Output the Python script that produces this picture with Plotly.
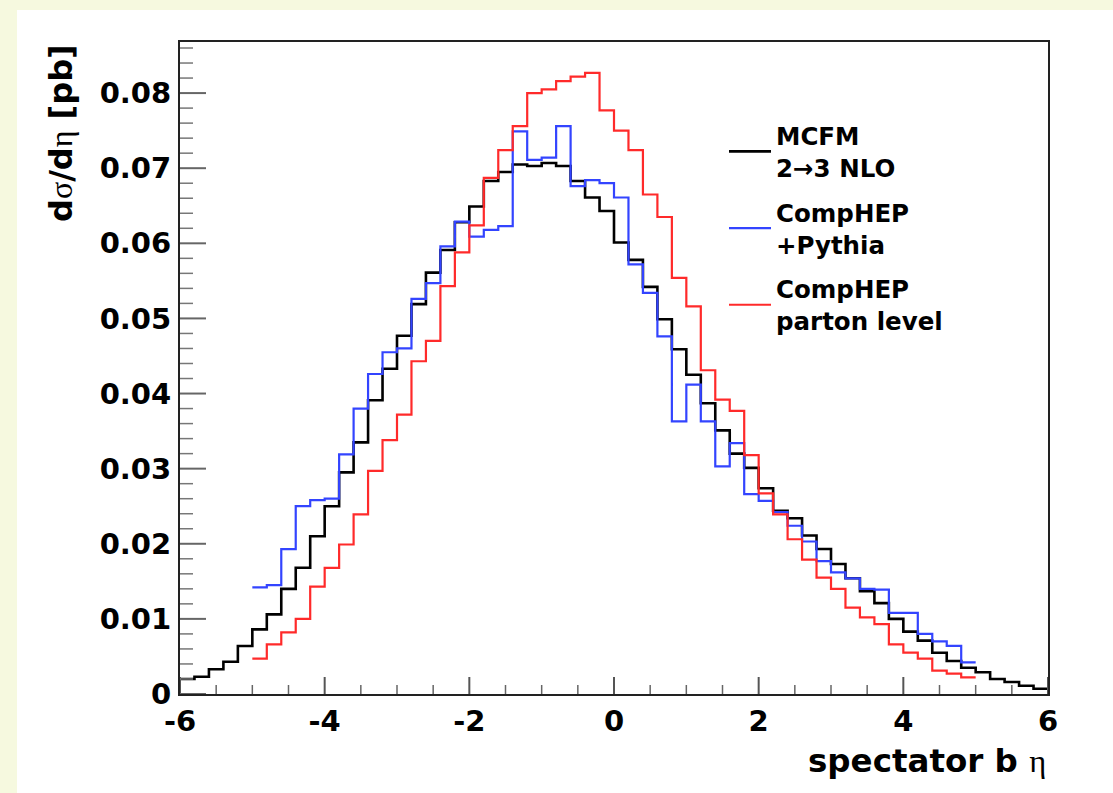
import numpy as np
import plotly.graph_objects as go

# ---------------- data ----------------
eta_min, eta_max, bin_width = -6.0, 6.0, 0.2

mcfm_nlo = [0.0020, 0.0023, 0.0033, 0.0043, 0.0064, 0.0086, 0.0106, 0.0140, 0.0168, 0.0210,
            0.0250, 0.0295, 0.0335, 0.0391, 0.0433, 0.0477, 0.0519, 0.0561, 0.0591, 0.0628,
            0.0649, 0.0683, 0.0695, 0.0705, 0.0703, 0.0707, 0.0703, 0.0683, 0.0661, 0.0643,
            0.0601, 0.0578, 0.0542, 0.0499, 0.0459, 0.0425, 0.0387, 0.0351, 0.0320, 0.0301,
            0.0274, 0.0244, 0.0234, 0.0211, 0.0193, 0.0173, 0.0154, 0.0137, 0.0121, 0.0100,
            0.0083, 0.0071, 0.0055, 0.0044, 0.0035, 0.0029, 0.0020, 0.0016, 0.0011, 0.0007]
mcfm_start = -6.0

comphep_pythia = [0.0142, 0.0145, 0.0193, 0.0250, 0.0258, 0.0260, 0.0319, 0.0380, 0.0426, 0.0455,
                  0.0460, 0.0526, 0.0547, 0.0596, 0.0629, 0.0609, 0.0618, 0.0623, 0.0749, 0.0711,
                  0.0714, 0.0756, 0.0676, 0.0684, 0.0680, 0.0661, 0.0572, 0.0534, 0.0476, 0.0363,
                  0.0412, 0.0363, 0.0303, 0.0334, 0.0266, 0.0257, 0.0242, 0.0224, 0.0203, 0.0177,
                  0.0162, 0.0154, 0.0140, 0.0139, 0.0108, 0.0108, 0.0080, 0.0070, 0.0064, 0.0042]
pythia_start = -5.0

comphep_parton = [0.0047, 0.0066, 0.0082, 0.0100, 0.0143, 0.0168, 0.0199, 0.0239, 0.0297, 0.0338,
                  0.0372, 0.0443, 0.0470, 0.0543, 0.0588, 0.0624, 0.0687, 0.0724, 0.0756, 0.0800,
                  0.0805, 0.0816, 0.0822, 0.0827, 0.0777, 0.0750, 0.0724, 0.0665, 0.0635, 0.0554,
                  0.0516, 0.0431, 0.0392, 0.0377, 0.0318, 0.0267, 0.0239, 0.0206, 0.0179, 0.0155,
                  0.0140, 0.0115, 0.0102, 0.0093, 0.0066, 0.0055, 0.0047, 0.0031, 0.0027, 0.0022]
parton_start = -5.0

series_names = ["MCFM<br>2→3 NLO", "CompHEP<br>+Pythia", "CompHEP<br>parton level"]
series_colors = ["#000000", "#3344ff", "#ff2a2a"]

x_tick_vals = [-6, -4, -2, 0, 2, 4, 6]
x_tick_text = ["-6", "-4", "-2", "0", "2", "4", "6"]
x_minor_step = 0.5
y_tick_vals = [0, 0.01, 0.02, 0.03, 0.04, 0.05, 0.06, 0.07, 0.08]
y_tick_text = ["0", "0.01", "0.02", "0.03", "0.04", "0.05", "0.06", "0.07", "0.08"]
y_minor_step = 0.002
y_max = 0.0868


def step_xy(values, start):
    n = len(values)
    edges = np.round(start + bin_width * np.arange(n + 1), 6)
    ys = list(values) + [values[-1]]
    return edges, ys


# ---------------- figure ----------------
W, H = 1113, 793
L, R, T, B = 180, 65, 42, 99
pw, ph = W - L - R, H - T - B
PAGE = "#f6f9df"


def px_x(p):
    return (p - L) / pw


def px_y(p):
    return (H - B - p) / ph


fig = go.Figure()
specs = [
    (mcfm_nlo, mcfm_start, series_names[0], series_colors[0], 2.6, "a"),
    (comphep_pythia, pythia_start, series_names[1], series_colors[1], 2.2, "b"),
    (comphep_parton, parton_start, series_names[2], series_colors[2], 2.2, "c"),
]
for vals, start, name, col, lw, grp in specs:
    xs, ys = step_xy(vals, start)
    fig.add_trace(go.Scatter(x=xs, y=ys, mode="lines", name=name, legendgroup=grp,
                             line=dict(color=col, width=lw, shape="hv"),
                             hoverinfo="skip"))

tick_font = dict(family="DejaVu Sans", size=29, color="black", weight="bold")

# ---- inside tick marks (ROOT style), drawn as axis-referenced line shapes ----
tick_shapes = []
x_minor = [v for v in np.arange(eta_min, eta_max + 1e-9, x_minor_step)
           if min(abs(v - t) for t in x_tick_vals) > 1e-6]
for v in x_tick_vals:
    tick_shapes.append(dict(type="line", xref="x", yref="paper", x0=v, x1=v, y0=0, y1=17 / ph,
                            line=dict(color="#555", width=2), layer="above"))
for v in x_minor:
    tick_shapes.append(dict(type="line", xref="x", yref="paper", x0=v, x1=v, y0=0, y1=9 / ph,
                            line=dict(color="#666", width=1.5), layer="above"))
y_minor = [v for v in np.arange(0, y_max, y_minor_step)
           if min(abs(v - t) for t in y_tick_vals) > 1e-7]
for v in y_tick_vals:
    tick_shapes.append(dict(type="line", xref="paper", yref="y", x0=0, x1=26 / pw, y0=v, y1=v,
                            line=dict(color="#666", width=2), layer="above"))
for v in y_minor:
    tick_shapes.append(dict(type="line", xref="paper", yref="y", x0=0, x1=13 / pw, y0=v, y1=v,
                            line=dict(color="#777", width=1.5), layer="above"))

page_shapes = [
    dict(type="rect", xref="paper", yref="paper", layer="above",
         x0=px_x(-5), x1=px_x(17), y0=px_y(H + 5), y1=px_y(-5),
         fillcolor=PAGE, line=dict(width=0)),
    dict(type="rect", xref="paper", yref="paper", layer="above",
         x0=px_x(-5), x1=px_x(W + 5), y0=px_y(10), y1=px_y(-5),
         fillcolor=PAGE, line=dict(width=0)),
]

fig.update_layout(
    width=W, height=H,
    margin=dict(l=L, r=R, t=T, b=B, pad=0),
    paper_bgcolor="white",
    plot_bgcolor="white",
    showlegend=True,
    legend=dict(
        x=px_x(724), y=px_y(113), xanchor="left", yanchor="top",
        bgcolor="rgba(0,0,0,0)", borderwidth=0,
        font=dict(family="DejaVu Sans", size=24.5, color="black", weight="bold"),
        traceorder="grouped", tracegroupgap=10, itemwidth=42,
    ),
    xaxis=dict(
        range=[eta_min, eta_max], showgrid=False, zeroline=False,
        showline=True, linecolor="#222", linewidth=2, mirror=True,
        ticks="", tickvals=x_tick_vals, ticktext=x_tick_text, tickfont=tick_font,
        ticklabelstandoff=0,
    ),
    yaxis=dict(
        range=[0, y_max], showgrid=False, zeroline=False,
        showline=True, linecolor="#222", linewidth=2, mirror=True,
        ticks="", tickvals=y_tick_vals, ticktext=y_tick_text, tickfont=tick_font,
        ticklabelstandoff=1,
    ),
    shapes=page_shapes + tick_shapes,
    annotations=[
        dict(xref="paper", yref="paper", x=1.0, y=px_y(761), xanchor="right", yanchor="middle",
             showarrow=False,
             text="<b>spectator b </b><span style='font-family:Liberation Serif'>η</span>",
             font=dict(family="DejaVu Sans", size=32.5, color="black")),
        dict(xref="paper", yref="paper", x=px_x(61), y=1.0, xanchor="center", yanchor="top",
             showarrow=False, textangle=-90,
             text=("<b>d</b><span style='font-family:Liberation Serif'>σ</span><b>/d</b>"
                   "<span style='font-family:Liberation Serif'>η</span><b> [pb]</b>"),
             font=dict(family="DejaVu Sans", size=32, color="black")),
    ],
)

fig.write_html(
    "out.html",
    config={"displayModeBar": False},
    post_script="document.body.style.margin='0px';document.body.style.overflow='hidden';",
)
